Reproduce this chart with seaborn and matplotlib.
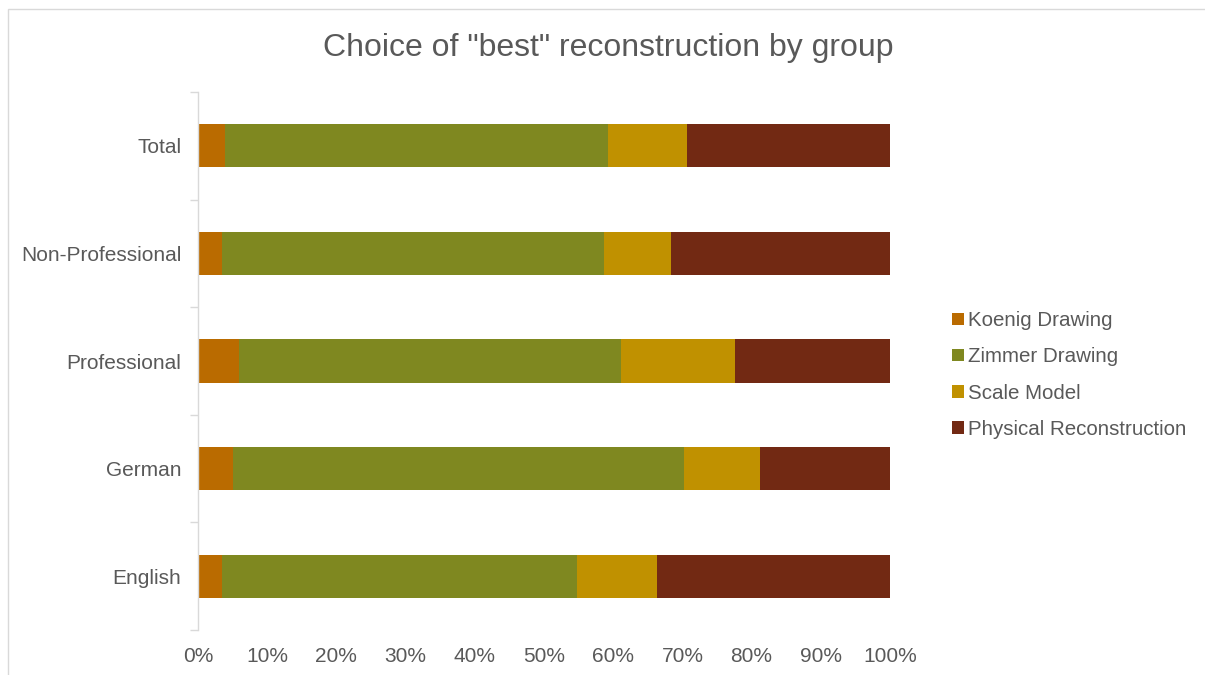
import numpy as np
import pandas as pd
import matplotlib.pyplot as plt
import seaborn as sns
from matplotlib.patches import Patch, Rectangle

sns.set_theme(style="white")
plt.rcParams['font.family'] = ['Liberation Sans', 'DejaVu Sans']

# data (percent of respondents per group)
groups = ['Total', 'Non-Professional', 'Professional', 'German', 'English']
koenig = [3.9, 3.4, 5.9, 5.0, 3.5]
zimmer = [55.3, 55.2, 55.2, 65.2, 51.3]
scale_model = [11.4, 9.8, 16.5, 11.0, 11.6]
physical = [29.4, 31.6, 22.4, 18.8, 33.6]

series = ['Koenig Drawing', 'Zimmer Drawing', 'Scale Model', 'Physical Reconstruction']
colors = ['#BA6B00', '#7F8820', '#C09100', '#722913']

df = pd.DataFrame({'group': groups, 'Koenig Drawing': koenig, 'Zimmer Drawing': zimmer,
                   'Scale Model': scale_model, 'Physical Reconstruction': physical})
cum = df[series].cumsum(axis=1) / 100.0
cum['group'] = df['group']

fig = plt.figure(figsize=(12.05, 6.75), dpi=100)
ax = fig.add_axes([198 / 1205, 1 - 630 / 675, (890 - 198) / 1205, (630 - 92) / 675])

# stacked bars: draw cumulative totals from the largest down
for name, col in reversed(list(zip(series, colors))):
    sns.barplot(data=cum, x=name, y='group', order=groups, color=col, width=0.4,
                saturation=1, ax=ax, orient='h', linewidth=0, edgecolor='none')

ax.set_xlim(0, 1)
ax.set_ylim(4.5, -0.5)
ax.set_xticks(np.arange(0, 1.01, 0.1))
ax.set_xticklabels([f'{int(round(v * 100))}%' for v in np.arange(0, 1.01, 0.1)])
ax.set_xlabel('')
ax.set_ylabel('')

txt = '#595959'
ax.tick_params(axis='x', length=0, labelsize=15, labelcolor=txt, pad=12)
ax.tick_params(axis='y', which='major', length=0, labelsize=15, labelcolor=txt, pad=12)
ax.set_yticks(np.arange(-0.5, 5, 1), minor=True)
ax.tick_params(axis='y', which='minor', left=True, length=6, color='#D9D9D9', width=1)

for s in ['top', 'right', 'bottom']:
    ax.spines[s].set_visible(False)
ax.spines['left'].set_color('#D9D9D9')
ax.spines['left'].set_linewidth(1)

fig.text(608 / 1205, 1 - 48 / 675, 'Choice of "best" reconstruction by group',
         ha='center', va='center', fontsize=23, color=txt)

handles = [Patch(facecolor=c, edgecolor='none', label=s) for s, c in zip(series, colors)]
fig.legend(handles=handles, loc='center left', bbox_to_anchor=(942 / 1205, 1 - 375 / 675),
           frameon=False, fontsize=14.8, labelcolor=txt, handlelength=0.55, handleheight=0.55,
           handletextpad=0.2, labelspacing=0.84, borderpad=0)

# thin chart-area border
fig.patches.append(Rectangle((8 / 1205, -0.01), 1.2, 1 - 9 / 675 + 0.01,
                             transform=fig.transFigure, fill=False,
                             edgecolor='#D9D9D9', linewidth=1))

fig.savefig('out.png', dpi=100)
